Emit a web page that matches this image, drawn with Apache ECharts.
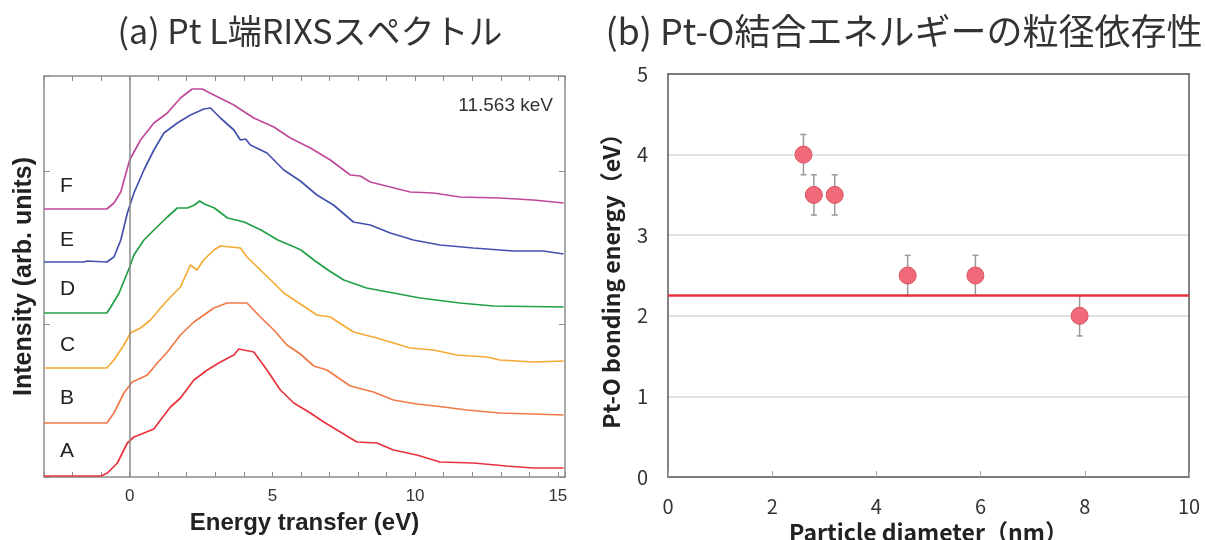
<!DOCTYPE html>
<html lang="ja">
<head>
<meta charset="UTF-8">
<title>Pt RIXS</title>
<script src="https://cdn.jsdelivr.net/npm/echarts@6/dist/echarts.min.js"></script>
</head>
<body style="margin:0;background:#fff">
<div id="main" style="width:1205px;height:540px;"></div>
<script type="text/javascript">
// (a) RIXS spectra, [energy transfer (eV), intensity (arb., offset)]
var spectrumF = [[-3,268],[-0.8,268],[-0.55,274],[-0.31,285],[0,317],[0.38,337],[0.85,354],[1.32,364],[1.78,379],[2.19,388],[2.54,388],[2.95,382],[3.65,372],[4.35,359],[5.05,350],[5.63,339],[6.33,329],[7.03,317],[7.73,302],[8.08,301],[8.43,295],[9.13,290],[9.83,285],[10.64,284],[11.57,280],[12.97,279],[14.14,277],[15.2,274]];
var spectrumE = [[-3,215],[-1.6,215],[-1.5,216],[-0.8,215],[-0.55,220],[-0.31,237],[-0.08,264],[0.15,284],[0.5,307],[0.85,327],[1.2,344],[1.67,354],[2.13,362],[2.6,368],[2.83,369],[3.18,359],[3.65,347],[3.88,337],[4.06,338],[4.23,332],[4.81,324],[5.4,307],[5.98,296],[6.56,282],[7.14,272],[7.84,255],[8.43,252],[9.13,244],[9.94,237],[10.87,232],[12.04,229],[13.44,226],[14.49,226],[15.2,223]];
var spectrumD = [[-3,164],[-0.8,164],[-0.66,170],[-0.37,184],[0,210],[0.15,222],[0.5,237],[0.85,247],[1.32,260],[1.67,269],[2.03,269],[2.27,272],[2.45,276],[2.62,273],[2.97,269],[3.43,259],[4.01,255],[4.6,247],[5.19,237],[5.77,230],[6.0,227],[6.5,216],[7.0,206],[7.5,197],[8.3,189],[9.24,184],[10.17,179],[11.57,174],[12.74,171],[15.2,170]];
var spectrumC = [[-3,109],[-0.8,109],[-0.55,117],[-0.2,132],[0.03,144],[0.38,149],[0.73,157],[1.08,169],[1.43,180],[1.78,190],[2.13,212],[2.36,207],[2.59,217],[2.95,227],[3.18,231],[3.88,229],[4.11,220],[4.58,207],[5.05,194],[5.4,184],[5.98,173],[6.56,162],[7.03,160],[7.84,145],[8.66,139],[9.48,132],[9.83,129],[10.64,127],[11.46,122],[12.51,120],[12.97,117],[14.14,115],[15.2,116]];
var spectrumB = [[-3,54],[-0.8,54],[-0.55,64],[-0.2,84],[0.09,95],[0.62,102],[0.97,114],[1.32,125],[1.78,142],[2.25,155],[2.6,162],[2.95,169],[3.41,174],[4.11,174],[4.58,160],[5.05,147],[5.51,132],[5.98,123],[6.45,111],[6.91,107],[7.73,91],[8.54,85],[9.24,77],[10.06,73],[11.0,70],[11.81,67],[12.97,64],[14.14,63],[15.2,62]];
var spectrumA = [[-3,1],[-1,1],[-0.78,4],[-0.43,14],[-0.08,34],[0.15,40],[0.5,44],[0.85,48],[1.08,57],[1.43,70],[1.78,79],[2.25,97],[2.72,107],[3.18,115],[3.65,122],[3.82,128],[4.35,125],[4.81,107],[5.28,87],[5.75,74],[6.33,64],[6.8,55],[7.38,45],[7.96,35],[8.66,34],[9.24,27],[10.06,22],[10.87,15],[12.04,14],[13.2,11],[14.14,9],[15.2,9]];
var sampleNames = ['A','B','C','D','E','F'];
var sampleColors = ['#e8333f','#f07a48','#f4aa35','#22a046','#4452ae','#bf4a9c'];

// (b) Pt-O bonding energy vs particle diameter
var diameter = [2.6, 2.8, 3.2, 4.6, 5.9, 7.9];
var bondEnergy = [4.0, 3.5, 3.5, 2.5, 2.5, 2.0];
var bondError = [0.25, 0.25, 0.25, 0.25, 0.25, 0.25];
var averageEnergy = 2.25;

var spectra = [spectrumA, spectrumB, spectrumC, spectrumD, spectrumE, spectrumF];
var labelY = [453, 400, 347, 291, 242, 188];

var myChart = echarts.init(document.getElementById('main'));

var jp = '"Noto Sans CJK JP", sans-serif';
var ar = '"Liberation Sans", Arial, sans-serif';

var series = [];
for (var i = 0; i < spectra.length; i++) {
    var s = {
        name: sampleNames[i],
        type: 'line',
        xAxisIndex: 0,
        yAxisIndex: 0,
        data: spectra[i],
        showSymbol: false,
        lineStyle: {color: sampleColors[i], width: 1.7},
        itemStyle: {color: sampleColors[i]},
        z: 3
    };
    if (i === 0) {
        s.markLine = {
            silent: true,
            symbol: 'none',
            label: {show: false},
            lineStyle: {color: '#8a8a8a', width: 1.5, type: 'solid'},
            data: [{xAxis: 0}]
        };
    }
    series.push(s);
}

var errData = diameter.map(function (d, i) { return [d, bondEnergy[i], bondError[i]]; });
series.push({
    type: 'custom',
    xAxisIndex: 2,
    yAxisIndex: 2,
    data: errData,
    z: 2,
    renderItem: function (params, api) {
        var x = api.value(0), y = api.value(1), e = api.value(2);
        var hi = api.coord([x, y + e]);
        var lo = api.coord([x, y - e]);
        var st = {stroke: '#9a9a9a', lineWidth: 1.5};
        return {
            type: 'group',
            children: [
                {type: 'line', shape: {x1: hi[0], y1: hi[1], x2: lo[0], y2: lo[1]}, style: st},
                {type: 'line', shape: {x1: hi[0] - 3, y1: hi[1], x2: hi[0] + 3, y2: hi[1]}, style: st},
                {type: 'line', shape: {x1: lo[0] - 3, y1: lo[1], x2: lo[0] + 3, y2: lo[1]}, style: st}
            ]
        };
    }
});
series.push({
    type: 'scatter',
    xAxisIndex: 2,
    yAxisIndex: 2,
    data: diameter.map(function (d, i) { return [d, bondEnergy[i]]; }),
    symbolSize: 17,
    itemStyle: {color: '#f06a7a', borderColor: '#d9505f', borderWidth: 1, opacity: 1},
    z: 4,
    markLine: {
        silent: true,
        symbol: 'none',
        label: {show: false},
        lineStyle: {color: '#e8333f', width: 2.5, type: 'solid'},
        data: [{yAxis: averageEnergy}]
    }
});

var graphics = [];
for (var k = 0; k < sampleNames.length; k++) {
    graphics.push({
        type: 'text', left: 60, top: labelY[k] - 12,
        style: {text: sampleNames[k], font: '21px ' + ar, fill: '#222'}
    });
}
graphics.push({
    type: 'text', right: 1205 - 553, top: 96,
    style: {text: '11.563 keV', font: '19px ' + ar, fill: '#333'}
});

var frameA = {onZero: false, lineStyle: {color: '#8c8c8c', width: 1.5}};
var frameB = {onZero: false, lineStyle: {color: '#595959', width: 1.5}};

var option = {
    animation: false,
    title: [
        {text: '(a) Pt L端RIXSスペクトル', left: 305, top: 9, textAlign: 'center',
         textStyle: {fontFamily: jp, fontSize: 34, fontWeight: 'normal', color: '#333'}},
        {text: '(b) Pt-O結合エネルギーの粒径依存性', left: 899, top: 8, textAlign: 'center',
         textStyle: {fontFamily: jp, fontSize: 36, fontWeight: 'normal', color: '#333'}}
    ],
    grid: [
        {left: 44, top: 76, width: 521, height: 401, outerBoundsMode: 'none', containLabel: false},
        {left: 668, top: 74, width: 521, height: 403, outerBoundsMode: 'none', containLabel: false}
    ],
    xAxis: [
        {gridIndex: 0, type: 'value', position: 'bottom', min: -3, max: 15.25, interval: 1,
         name: 'Energy transfer (eV)', nameLocation: 'middle', nameGap: 34,
         nameTextStyle: {fontFamily: ar, fontSize: 24, fontWeight: 'bold', color: '#222'},
         axisLine: frameA,
         axisTick: {inside: true, length: 5, lineStyle: {color: '#8c8c8c'}},
         axisLabel: {fontFamily: ar, fontSize: 17, color: '#333', margin: 11,
            formatter: function (v) { return (v % 5 === 0) ? String(v) : ''; }},
         splitLine: {show: false}},
        {gridIndex: 0, type: 'value', position: 'top', min: -3, max: 15.25, interval: 1,
         axisLine: frameA,
         axisTick: {inside: true, length: 5, lineStyle: {color: '#8c8c8c'}},
         axisLabel: {show: false}, splitLine: {show: false}},
        {gridIndex: 1, type: 'value', position: 'bottom', min: 0, max: 10, interval: 2,
         name: 'Particle diameter（nm）', nameLocation: 'middle', nameGap: 43,
         nameTextStyle: {fontFamily: jp, fontSize: 23, fontWeight: 'bold', color: '#222'},
         axisLine: frameB,
         axisTick: {inside: true, length: 6, lineStyle: {color: '#aaa'}},
         axisLabel: {fontFamily: jp, fontSize: 20, color: '#333', margin: 19},
         splitLine: {show: false}},
        {gridIndex: 1, type: 'value', position: 'top', min: 0, max: 10,
         axisLine: frameB,
         axisTick: {show: false}, axisLabel: {show: false}, splitLine: {show: false}}
    ],
    yAxis: [
        {gridIndex: 0, type: 'value', position: 'left', min: 0, max: 401, interval: 153,
         name: 'Intensity (arb. units)', nameLocation: 'middle', nameGap: 7,
         nameTextStyle: {fontFamily: ar, fontSize: 25, fontWeight: 'bold', color: '#222'},
         axisLine: frameA,
         axisTick: {inside: true, length: 6, lineStyle: {color: '#8c8c8c'}},
         axisLabel: {show: false}, splitLine: {show: false}},
        {gridIndex: 0, type: 'value', position: 'right', min: 0, max: 401, interval: 153,
         axisLine: frameA,
         axisTick: {inside: true, length: 6, lineStyle: {color: '#8c8c8c'}},
         axisLabel: {show: false}, splitLine: {show: false}},
        {gridIndex: 1, type: 'value', position: 'left', min: 0, max: 5, interval: 1,
         name: 'Pt-O bonding energy（eV）', nameLocation: 'middle', nameGap: 45,
         nameTextStyle: {fontFamily: jp, fontSize: 23, fontWeight: 'bold', color: '#222'},
         axisLine: frameB,
         axisTick: {show: false},
         axisLabel: {fontFamily: jp, fontSize: 20, color: '#333', margin: 20},
         splitLine: {lineStyle: {color: '#d9d9d9', width: 1.5}}},
        {gridIndex: 1, type: 'value', position: 'right', min: 0, max: 5,
         axisLine: frameB,
         axisTick: {show: false}, axisLabel: {show: false}, splitLine: {show: false}}
    ],
    graphic: graphics,
    series: series
};
myChart.setOption(option);
</script>
</body>
</html>
